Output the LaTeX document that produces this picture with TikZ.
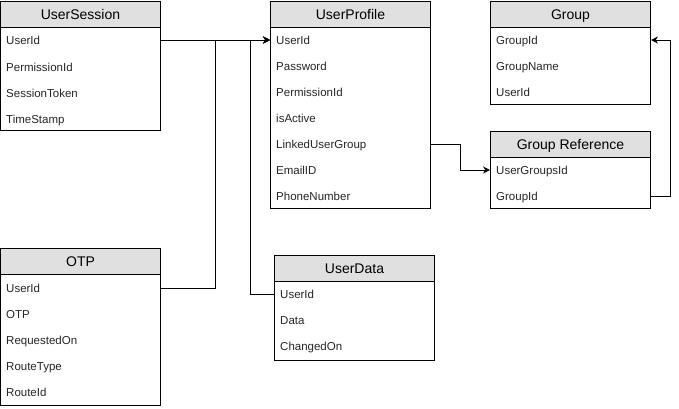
\documentclass[tikz,border=0pt]{standalone}
\usepackage{fontspec}
\setmainfont{Liberation Sans}
\usetikzlibrary{arrows.meta}
\definecolor{hdrfill}{HTML}{E0E0E0}
\tikzset{
  hdrbox/.style={draw=black, fill=hdrfill, line width=1pt, minimum width=160pt, minimum height=26pt, inner sep=0pt, text height=13pt, text depth=3pt, anchor=north west, font=\fontsize{14pt}{16pt}\selectfont},
  bodybox/.style={draw=black, fill=white, line width=1pt, minimum width=160pt, inner sep=0pt, anchor=north west},
  rowtxt/.style={anchor=west, inner sep=0pt, text height=11.9pt, text depth=2.5pt, font=\fontsize{11.5pt}{13pt}\selectfont, text=black!85},
  conn/.style={draw=black, line width=1pt},
  arr/.style={-{Stealth[length=7pt,width=7pt]}}
}
\begin{document}
\begin{tikzpicture}[x=1pt,y=-1pt]
\useasboundingbox (0,0) rectangle (679,408);

% UserSession
\node[bodybox, minimum height=103pt] (usb) at (0,27) {};
\node[hdrbox] (us) at (0,1) {UserSession};
\node[rowtxt] (us1) at (6,40) {UserId};
\node[rowtxt] (us2) at (6,66.5) {PermissionId};
\node[rowtxt] (us3) at (6,92.5) {SessionToken};
\node[rowtxt] (us4) at (6,118.5) {TimeStamp};

% UserProfile
\node[bodybox, minimum height=181pt] (upb) at (270,27) {};
\node[hdrbox] (up) at (270,1) {UserProfile};
\node[rowtxt] (up1) at (276,40) {UserId};
\node[rowtxt] (up2) at (276,66) {Password};
\node[rowtxt] (up3) at (276,92) {PermissionId};
\node[rowtxt] (up4) at (276,118) {isActive};
\node[rowtxt] (up5) at (276,144) {LinkedUserGroup};
\node[rowtxt] (up6) at (276,170) {EmailID};
\node[rowtxt] (up7) at (276,196) {PhoneNumber};

% Group
\node[bodybox, minimum height=77pt] (gb) at (490,27) {};
\node[hdrbox] (g) at (490,1) {Group};
\node[rowtxt] (g1) at (496,40) {GroupId};
\node[rowtxt] (g2) at (496,66) {GroupName};
\node[rowtxt] (g3) at (496,92) {UserId};

% Group Reference
\node[bodybox, minimum height=51pt] (grb) at (490,157) {};
\node[hdrbox] (gr) at (490,131) {Group Reference};
\node[rowtxt] (gr1) at (496,170) {UserGroupsId};
\node[rowtxt] (gr2) at (496,196) {GroupId};

% OTP
\node[bodybox, minimum height=131pt] (ob) at (0,274) {};
\node[hdrbox] (o) at (0,248) {OTP};
\node[rowtxt] (o1) at (6,288) {UserId};
\node[rowtxt] (o2) at (6,314) {OTP};
\node[rowtxt] (o3) at (6,340) {RequestedOn};
\node[rowtxt] (o4) at (6,366) {RouteType};
\node[rowtxt] (o5) at (6,392) {RouteId};

% UserData
\node[bodybox, minimum height=79pt] (udb) at (274,281) {};
\node[hdrbox] (ud) at (274,255) {UserData};
\node[rowtxt] (ud1) at (280,294) {UserId};
\node[rowtxt] (ud2) at (280,320) {Data};
\node[rowtxt] (ud3) at (280,346) {ChangedOn};

% junction columns
\coordinate (jx1) at (215,0);
\coordinate (jx2) at (250,0);
\coordinate (jx3) at (460,0);
\coordinate (jx4) at (670,0);

% connectors
\draw[conn, arr] (us1 -| usb.east) -- (up1 -| upb.west);
\draw[conn, arr] (o1 -| ob.east) -- (jx1 |- o1) -- (jx1 |- up1) -- (up1 -| upb.west);
\draw[conn, arr] (ud1 -| udb.west) -- (jx2 |- ud1) -- (jx2 |- up1) -- (up1 -| upb.west);
\draw[conn, arr] (up5 -| upb.east) -- (jx3 |- up5) -- (jx3 |- gr1) -- (gr1 -| grb.west);
\draw[conn, arr] (gr2 -| grb.east) -- (jx4 |- gr2) -- (jx4 |- g1) -- (g1 -| gb.east);
\end{tikzpicture}
\end{document}
